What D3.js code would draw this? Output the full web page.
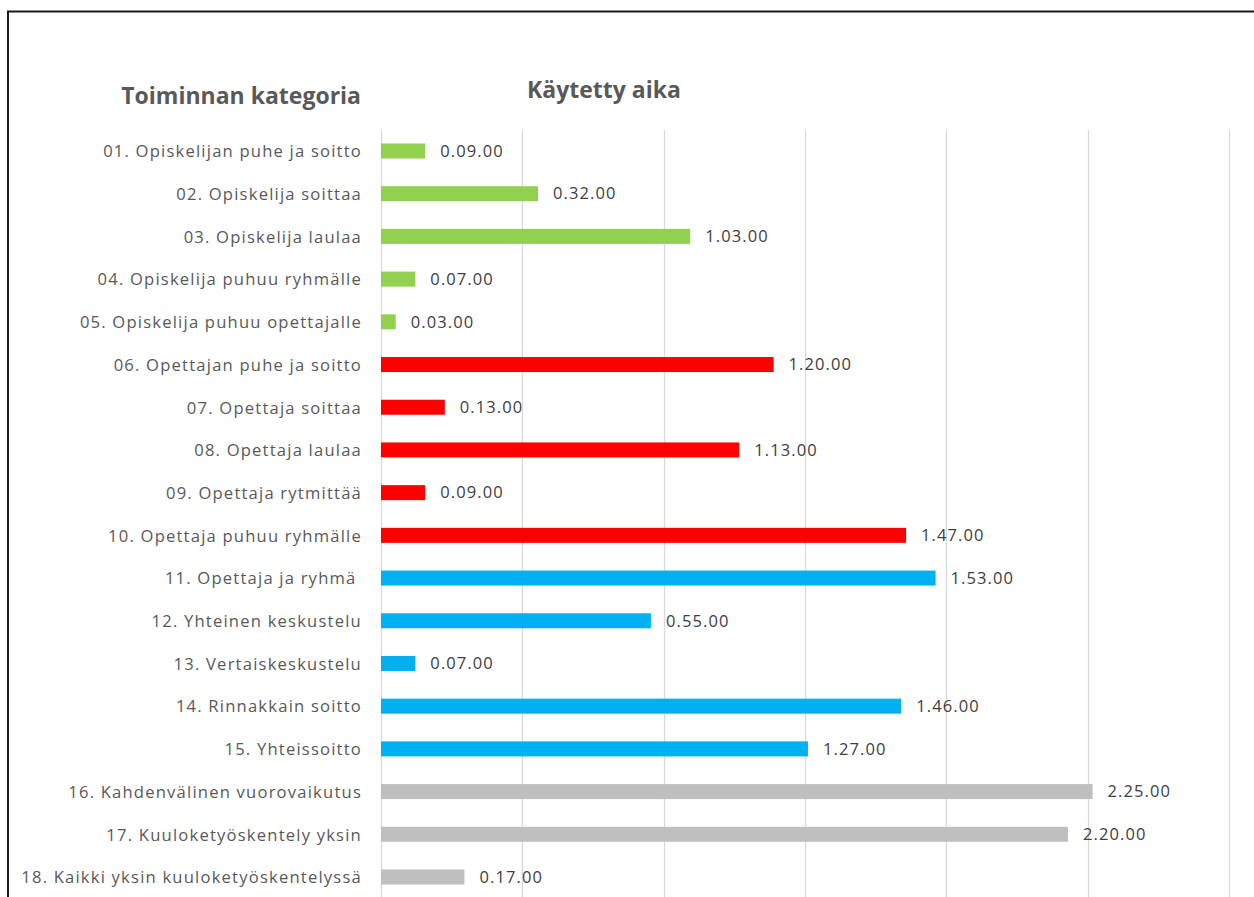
<!DOCTYPE html>
<html>
<head>
<meta charset="utf-8">
<script src="https://cdn.jsdelivr.net/npm/d3@7"></script>
<style>
  html, body { margin: 0; padding: 0; background: #fff; }
  svg { display: block; }
</style>
</head>
<body>
<svg id="chart" width="1254" height="897"></svg>
<script>
// Activity categories, time spent (m.ss.hh) and group of each activity
const categories = [
  "01. Opiskelijan puhe ja soitto",
  "02. Opiskelija soittaa",
  "03. Opiskelija laulaa",
  "04. Opiskelija puhuu ryhmälle",
  "05. Opiskelija puhuu opettajalle",
  "06. Opettajan puhe ja soitto",
  "07. Opettaja soittaa",
  "08. Opettaja laulaa",
  "09. Opettaja rytmittää",
  "10. Opettaja puhuu ryhmälle",
  "11. Opettaja ja ryhmä ",
  "12. Yhteinen keskustelu",
  "13. Vertaiskeskustelu",
  "14. Rinnakkain soitto",
  "15. Yhteissoitto",
  "16. Kahdenvälinen vuorovaikutus",
  "17. Kuuloketyöskentely yksin",
  "18. Kaikki yksin kuuloketyöskentelyssä"
];
const timeLabels = [
  "0.09.00", "0.32.00", "1.03.00", "0.07.00", "0.03.00",
  "1.20.00", "0.13.00", "1.13.00", "0.09.00", "1.47.00",
  "1.53.00", "0.55.00", "0.07.00", "1.46.00", "1.27.00",
  "2.25.00", "2.20.00", "0.17.00"
];
const groups = [
  "opiskelija", "opiskelija", "opiskelija", "opiskelija", "opiskelija",
  "opettaja", "opettaja", "opettaja", "opettaja", "opettaja",
  "yhteinen", "yhteinen", "yhteinen", "yhteinen", "yhteinen",
  "yksilö", "yksilö", "yksilö"
];
// Axis runs from 0 to 0.002 days (172.8 s) with gridlines every 1/3000 day
const axisMaxSeconds = 172.8;
const gridStepSeconds = 28.8;

const groupColors = {
  "opiskelija": "#92D050",
  "opettaja": "#FF0000",
  "yhteinen": "#00B0F0",
  "yksilö": "#BFBFBF"
};

// "m.ss.hh" -> seconds
function toSeconds(s) {
  const [m, sec, h] = s.split(".").map(Number);
  return m * 60 + sec + h / 100;
}

const data = categories.map((c, i) => ({
  category: c,
  label: timeLabels[i],
  seconds: toSeconds(timeLabels[i]),
  group: groups[i]
}));

const svg = d3.select("#chart");
const font = "'Open Sans', 'DejaVu Sans', sans-serif";

const x = d3.scaleLinear().domain([0, axisMaxSeconds]).range([381, 1229]);
const y = d3.scalePoint().domain(categories).range([151, 877]);
const barH = 15;

// frame
svg.append("path")
  .attr("d", "M8,897 V11.5 H1254")
  .attr("fill", "none")
  .attr("stroke", "#1a1a1a")
  .attr("stroke-width", 2);

// vertical gridlines
const gridVals = d3.range(0, axisMaxSeconds + 1e-6, gridStepSeconds);
svg.append("g")
  .selectAll("line")
  .data(gridVals)
  .join("line")
  .attr("x1", d => Math.round(x(d)) + 0.5)
  .attr("x2", d => Math.round(x(d)) + 0.5)
  .attr("y1", 130)
  .attr("y2", 897)
  .attr("stroke", "#D9D9D9")
  .attr("stroke-width", 1.3);

// bars
svg.append("g")
  .selectAll("rect")
  .data(data)
  .join("rect")
  .attr("x", x(0))
  .attr("y", d => y(d.category) - barH / 2)
  .attr("width", d => x(d.seconds) - x(0))
  .attr("height", barH)
  .attr("fill", d => groupColors[d.group]);

// category axis labels
const yAxis = d3.axisLeft(y).tickSize(0).tickPadding(19);
const yAxisG = svg.append("g")
  .attr("transform", `translate(${x(0)},0)`)
  .call(yAxis);
yAxisG.select(".domain").remove();
yAxisG.selectAll("text")
  .attr("font-family", font)
  .attr("font-size", 16.6)
  .attr("letter-spacing", 1.2)
  .attr("fill", "#595959")
  .attr("dy", "0.35em")
  .style("white-space", "pre");

// value labels
svg.append("g")
  .selectAll("text")
  .data(data)
  .join("text")
  .attr("x", d => x(d.seconds) + 15)
  .attr("y", d => y(d.category))
  .attr("dy", "0.35em")
  .attr("font-family", font)
  .attr("font-size", 16.5)
  .attr("letter-spacing", 1.1)
  .attr("fill", "#404040")
  .text(d => d.label);

// headings
svg.append("text")
  .attr("x", 361)
  .attr("y", 96)
  .attr("dy", "0.35em")
  .attr("text-anchor", "end")
  .attr("font-family", font)
  .attr("font-size", 23)
  .attr("font-weight", "bold")
  .attr("fill", "#595959")
  .text("Toiminnan kategoria");

svg.append("text")
  .attr("x", 527)
  .attr("y", 90)
  .attr("dy", "0.35em")
  .attr("font-family", font)
  .attr("font-size", 23)
  .attr("font-weight", "bold")
  .attr("fill", "#595959")
  .text("Käytetty aika");
</script>
</body>
</html>
